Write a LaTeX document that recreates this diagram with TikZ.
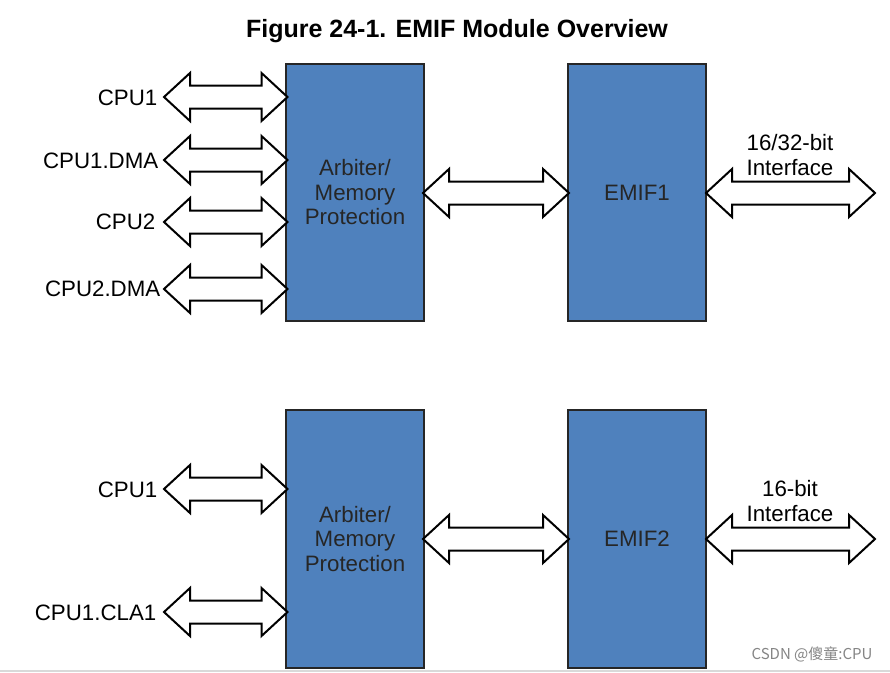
\documentclass[tikz,border=0pt]{standalone}
\usepackage{fontspec}
\setmainfont{Liberation Sans}
\newfontfamily\cjk{Noto Sans CJK SC}
\usetikzlibrary{calc}
\definecolor{blockblue}{HTML}{4F81BD}
\definecolor{blocktext}{HTML}{262626}
\tikzset{
  block/.style={draw=blocktext, line width=2pt, fill=blockblue, minimum width=138pt, minimum height=257pt, inner sep=0pt, outer sep=0pt, align=center, text=blocktext, font=\fontsize{22.3}{24.5}\selectfont},
  lbl/.style={font=\fontsize{22.3}{24.5}\selectfont, inner sep=0pt, align=center},
  fatarrow/.style={draw=black, line width=2pt, fill=white, line join=miter,
    to path={let \p1=(\tikztostart), \p2=(\tikztotarget) in
      (\x1,\y1) -- (\x1+26pt,\y1+24pt) -- (\x1+26pt,\y1+11.5pt) -- (\x2-26pt,\y1+11.5pt) -- (\x2-26pt,\y1+24pt)
      -- (\x2,\y1) -- (\x2-26pt,\y1-24pt) -- (\x2-26pt,\y1-11.5pt) -- (\x1+26pt,\y1-11.5pt) -- (\x1+26pt,\y1-24pt) -- cycle}}
}
\begin{document}
\begin{tikzpicture}[x=1pt,y=-1pt]
\useasboundingbox (0,0) rectangle (890,672);
\fill[white] (0,0) rectangle (890,672);
\draw[line width=1.5pt, draw=black!15] (0,671) -- (890,671);

\node[font=\bfseries\fontsize{25}{28}\selectfont, inner sep=0pt] (title) at (457,31) {Figure 24-1. EMIF Module Overview};

% top group
\node[block] (arbA) at (355,192.5) {Arbiter/\\Memory\\Protection};
\node[block] (emif1) at (637,192.5) {EMIF1};
% bottom group
\node[block, minimum height=258pt] (arbB) at (355,539) {Arbiter/\\Memory\\Protection};
\node[block, minimum height=258pt] (emif2) at (637,539) {EMIF2};

% left labels top
\node[lbl, anchor=east] (cpu1a) at (157.5,98) {CPU1};
\node[lbl, anchor=east] (cpu1dma) at (158.5,161) {CPU1.DMA};
\node[lbl, anchor=east] (cpu2) at (155.5,222) {CPU2};
\node[lbl, anchor=east] (cpu2dma) at (160.5,289) {CPU2.DMA};
% left labels bottom
\node[lbl, anchor=east] (cpu1b) at (157.5,490) {CPU1};
\node[lbl, anchor=east] (cpu1cla) at (156.5,613) {CPU1.CLA1};

% arrow tips
\coordinate (t1) at (164,97);
\coordinate (t2) at (164,160);
\coordinate (t3) at (164,222);
\coordinate (t4) at (164,289);
\coordinate (t5) at (164,489);
\coordinate (t6) at (164,612);
\coordinate (r1) at (875,193);
\coordinate (r2) at (875,539);

\draw[fatarrow] (t1) to ($(arbA.west |- t1)+(1.5,0)$);
\draw[fatarrow] (t2) to ($(arbA.west |- t2)+(1.5,0)$);
\draw[fatarrow] (t3) to ($(arbA.west |- t3)+(1.5,0)$);
\draw[fatarrow] (t4) to ($(arbA.west |- t4)+(1.5,0)$);
\draw[fatarrow] (t5) to ($(arbB.west |- t5)+(1.5,0)$);
\draw[fatarrow] (t6) to ($(arbB.west |- t6)+(1.5,0)$);

\draw[fatarrow] ($(arbA.east |- r1)+(-1,0)$) to ($(emif1.west |- r1)+(1,0)$);
\draw[fatarrow] ($(arbB.east |- r2)+(-1,0)$) to ($(emif2.west |- r2)+(1,0)$);
\draw[fatarrow] ($(emif1.east |- r1)$) to (r1);
\draw[fatarrow] ($(emif2.east |- r2)$) to (r2);

\node[lbl] (if1) at (790,155) {16/32-bit\\Interface};
\node[lbl] (if2) at (790,501) {16-bit\\Interface};

\node[font=\cjk\fontsize{15}{17}\selectfont, text=black!48, inner sep=0pt] (wm) at (812,654) {CSDN @傻童:CPU};
\end{tikzpicture}
\end{document}
